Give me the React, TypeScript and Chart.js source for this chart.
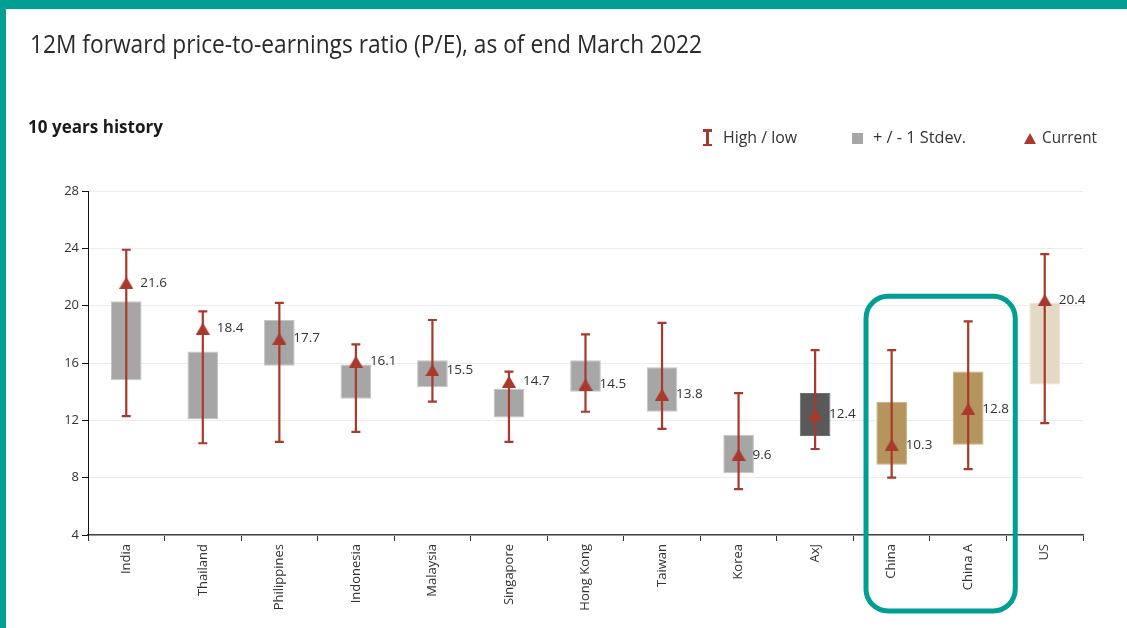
import React, { useEffect, useLayoutEffect, useRef } from "react";
import { Chart, registerables } from "chart.js";

Chart.register(...registerables);

const categories = ["India", "Thailand", "Philippines", "Indonesia", "Malaysia", "Singapore", "Hong Kong", "Taiwan", "Korea", "AxJ", "China", "China A", "US"];
const currentValues = [21.6, 18.4, 17.7, 16.1, 15.5, 14.7, 14.5, 13.8, 9.6, 12.4, 10.3, 12.8, 20.4];
const highValues = [23.9, 19.6, 20.2, 17.3, 19.0, 15.4, 18.0, 18.8, 13.9, 16.9, 16.9, 18.9, 23.6];
const lowValues = [12.3, 10.4, 10.5, 11.2, 13.3, 10.5, 12.6, 11.4, 7.2, 10.0, 8.0, 8.6, 11.8];
const stdHighValues = [20.3, 16.8, 19.0, 15.9, 16.2, 14.2, 16.2, 15.7, 11.0, 13.9, 13.3, 15.4, 20.2];
const stdLowValues = [14.8, 12.1, 15.8, 13.5, 14.3, 12.2, 14.0, 12.6, 8.3, 10.9, 8.9, 10.3, 14.5];
const barColors = ["#a6a6a6", "#a6a6a6", "#a6a6a6", "#a6a6a6", "#a6a6a6", "#a6a6a6", "#a6a6a6", "#a6a6a6", "#a6a6a6", "#595959", "#b3955d", "#b3955d", "#e3d9c4"];
const barBorders = ["#c4c4c4", "#c4c4c4", "#c4c4c4", "#c4c4c4", "#c4c4c4", "#c4c4c4", "#c4c4c4", "#c4c4c4", "#c4c4c4", "#6e6e6e", "#c8ad7c", "#c8ad7c", "#ece4d4"];
const yTicks = [4, 8, 12, 16, 20, 24, 28];
const highlighted = ["China", "China A"];

const RED = "#a8392c";
const TEAL = "#009e93";
const FONT = "'Open Sans', sans-serif";

function makeTriangle(): HTMLCanvasElement {
  const c = document.createElement("canvas");
  c.width = 14;
  c.height = 12;
  const ctx = c.getContext("2d")!;
  ctx.fillStyle = RED;
  ctx.beginPath();
  ctx.moveTo(0, 12);
  ctx.lineTo(7, 0);
  ctx.lineTo(14, 12);
  ctx.closePath();
  ctx.fill();
  return c;
}

const errorBarPlugin = {
  id: "errorBars",
  afterDatasetDraw(chart: any, args: any) {
    if (args.index !== 0) return;
    const ctx = chart.ctx;
    const y = chart.scales.y;
    const meta = chart.getDatasetMeta(0);
    ctx.save();
    ctx.strokeStyle = RED;
    ctx.lineWidth = 2.2;
    meta.data.forEach((bar: any, i: number) => {
      const x = bar.x;
      const yh = y.getPixelForValue(highValues[i]);
      const yl = y.getPixelForValue(lowValues[i]);
      ctx.beginPath();
      ctx.moveTo(x, yh);
      ctx.lineTo(x, yl);
      ctx.moveTo(x - 4.5, yh);
      ctx.lineTo(x + 4.5, yh);
      ctx.moveTo(x - 4.5, yl);
      ctx.lineTo(x + 4.5, yl);
      ctx.stroke();
    });
    ctx.restore();
  },
};

const labelPlugin = {
  id: "valueLabels",
  afterDatasetsDraw(chart: any) {
    const ctx = chart.ctx;
    const meta = chart.getDatasetMeta(1);
    ctx.save();
    ctx.font = `13.5px ${FONT}`;
    ctx.fillStyle = "#333";
    ctx.textBaseline = "middle";
    ctx.textAlign = "left";
    meta.data.forEach((pt: any, i: number) => {
      ctx.fillText(currentValues[i].toFixed(1), pt.x + 14, pt.y);
    });
    ctx.restore();
  },
};

const highlightPlugin = {
  id: "highlightBox",
  afterDraw(chart: any) {
    const ctx = chart.ctx;
    const x = chart.scales.x;
    const y = chart.scales.y;
    const i0 = categories.indexOf(highlighted[0]);
    const i1 = categories.indexOf(highlighted[1]);
    const w = x.getPixelForValue(1) - x.getPixelForValue(0);
    const left = x.getPixelForValue(i0) - 0.335 * w;
    const right = x.getPixelForValue(i1) + 0.615 * w;
    const top = y.getPixelForValue(20.65);
    const bottom = chart.chartArea.bottom + 76;
    ctx.save();
    ctx.strokeStyle = TEAL;
    ctx.lineWidth = 5;
    ctx.beginPath();
    ctx.roundRect(left, top, right - left, bottom - top, 22);
    ctx.stroke();
    ctx.restore();
  },
};

function FitText(props: { text: string; left: number; top: number; size: number; width: number; weight?: number; color?: string }) {
  const ref = useRef<HTMLSpanElement>(null);
  useLayoutEffect(() => {
    const fit = () => {
      const el = ref.current;
      if (!el) return;
      el.style.transform = "none";
      const w = el.getBoundingClientRect().width;
      if (w > 0) el.style.transform = `scaleX(${props.width / w})`;
    };
    fit();
    if ((document as any).fonts && (document as any).fonts.ready) {
      (document as any).fonts.ready.then(fit);
    }
  }, [props.text, props.width, props.size]);
  return (
    <span
      ref={ref}
      style={{
        position: "absolute",
        left: props.left,
        top: props.top,
        fontSize: props.size,
        lineHeight: `${props.size}px`,
        fontWeight: props.weight ?? 400,
        color: props.color ?? "#2a2a2a",
        fontFamily: FONT,
        whiteSpace: "nowrap",
        transformOrigin: "0 0",
        display: "inline-block",
      }}
    >
      {props.text}
    </span>
  );
}

export default function App() {
  const canvasRef = useRef<HTMLCanvasElement>(null);

  useEffect(() => {
    if (!canvasRef.current) return;
    const tri = makeTriangle();
    const chart = new Chart(canvasRef.current, {
      type: "bar",
      data: {
        labels: categories,
        datasets: [
          {
            type: "bar",
            label: "+ / - 1 Stdev.",
            data: stdLowValues.map((lo, i) => [lo, stdHighValues[i]]) as any,
            backgroundColor: barColors,
            borderColor: barBorders,
            borderWidth: 1,
            borderSkipped: false,
            categoryPercentage: 1,
            barPercentage: 0.4,
            order: 2,
          },
          {
            type: "line",
            label: "Current",
            data: currentValues,
            showLine: false,
            pointStyle: tri as any,
            pointRadius: 7,
            pointHoverRadius: 7,
            backgroundColor: RED,
            borderColor: RED,
            order: 1,
          } as any,
        ],
      },
      options: {
        animation: false,
        responsive: false,
        events: [],
        layout: { padding: { left: 0, top: 191, right: 44, bottom: 0 } },
        plugins: {
          legend: { display: false },
          tooltip: { enabled: false },
          title: { display: false },
        },
        scales: {
          x: {
            type: "category",
            offset: true,
            afterFit: (s: any) => {
              s.height = 93;
            },
            grid: {
              display: true,
              offset: true,
              drawOnChartArea: false,
              drawTicks: true,
              tickLength: 6,
              tickColor: "#333",
            },
            border: { display: true, color: "#444", width: 1.5 },
            ticks: {
              minRotation: 90,
              maxRotation: 90,
              autoSkip: false,
              padding: 3,
              color: "#333",
              font: { family: FONT, size: 13 },
            },
          },
          y: {
            type: "linear",
            min: yTicks[0],
            max: yTicks[yTicks.length - 1],
            afterFit: (s: any) => {
              s.width = 88;
            },
            afterBuildTicks: (s: any) => {
              s.ticks = yTicks.map((v) => ({ value: v }));
            },
            grid: {
              color: "#ececec",
              lineWidth: 1,
              drawTicks: true,
              tickLength: 6,
              tickColor: "#111",
            },
            border: { display: true, color: "#111", width: 1 },
            ticks: {
              padding: 3,
              color: "#333",
              font: { family: FONT, size: 13 },
            },
          },
        },
      },
      plugins: [errorBarPlugin, labelPlugin, highlightPlugin],
    });
    return () => chart.destroy();
  }, []);

  return (
    <div style={{ position: "fixed", left: 0, top: 0, width: 1127, height: 628, background: "#fff", overflow: "hidden" }}>
      <canvas ref={canvasRef} width={1127} height={628} style={{ position: "absolute", left: 0, top: 0, width: 1127, height: 628 }} />
      <div style={{ position: "absolute", left: 0, top: 0, width: 1127, height: 9, background: TEAL }} />
      <div style={{ position: "absolute", left: 0, top: 0, width: 6, height: 628, background: TEAL }} />
      <FitText text="12M forward price-to-earnings ratio (P/E), as of end March 2022" left={30} top={30.5} size={25} width={672} />
      <FitText text="10 years history" left={28} top={118} size={17} weight={700} width={135} color="#1a1a1a" />
      {/* legend */}
      <div style={{ position: "absolute", left: 701, top: 129, width: 13, height: 17 }}>
        <div style={{ position: "absolute", left: 2, top: 0, width: 9, height: 2.5, background: RED }} />
        <div style={{ position: "absolute", left: 5.25, top: 0, width: 2.5, height: 17, background: RED }} />
        <div style={{ position: "absolute", left: 2, top: 14.5, width: 9, height: 2.5, background: RED }} />
      </div>
      <FitText text="High / low" left={722.7} top={128} size={17} width={74} color="#333" />
      <div style={{ position: "absolute", left: 852, top: 133, width: 11, height: 11, background: "#a6a6a6" }} />
      <FitText text="+ / - 1 Stdev." left={873} top={128} size={17} width={93} color="#333" />
      <div
        style={{
          position: "absolute",
          left: 1024,
          top: 132.5,
          width: 0,
          height: 0,
          borderLeft: "6.5px solid transparent",
          borderRight: "6.5px solid transparent",
          borderBottom: `11px solid ${RED}`,
        }}
      />
      <FitText text="Current" left={1041.7} top={128} size={17} width={55} color="#333" />
    </div>
  );
}
